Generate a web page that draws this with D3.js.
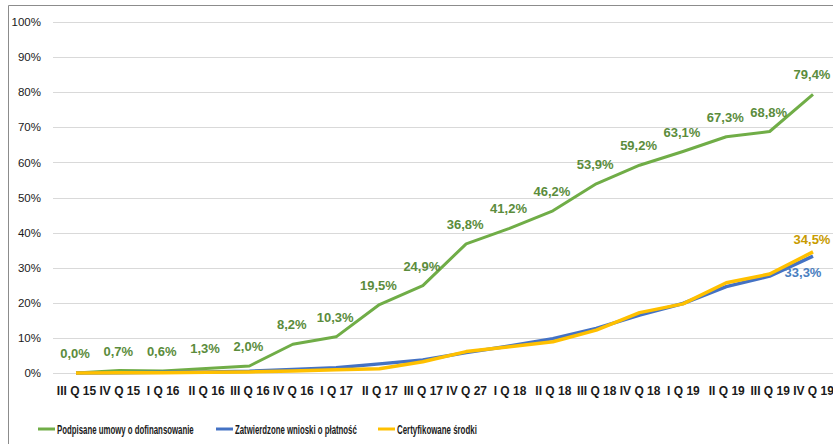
<!DOCTYPE html>
<html>
<head>
<meta charset="utf-8">
<script src="https://cdn.jsdelivr.net/npm/d3@7"></script>
<style>
  body { margin: 0; background: #fff; }
  text { font-family: "Liberation Sans", Arial, sans-serif; }
</style>
</head>
<body>
<svg id="chart" width="833" height="444"></svg>
<script>
// === Data ===
const quarters = ['III Q 15', 'IV Q 15', 'I Q 16', 'II Q 16', 'III Q 16', 'IV Q 16', 'I Q 17', 'II Q 17',
    'III Q 17', 'IV Q 27', 'I Q 18', 'II Q 18', 'III Q 18', 'IV Q 18', 'I Q 19', 'II Q 19', 'III Q 19', 'IV Q 19'];
const umowy = [0.0, 0.7, 0.6, 1.3, 2.0, 8.2, 10.3, 19.5, 24.9, 36.8, 41.2, 46.2, 53.9, 59.2, 63.1, 67.3, 68.8, 79.4];
const wnioski = [0, 0.1, 0.2, 0.3, 0.5, 1.0, 1.5, 2.6, 3.7, 5.8, 7.7, 9.8, 12.7, 16.5, 19.8, 24.6, 27.6, 33.3];
const certyfikowane = [0, 0.1, 0.1, 0.2, 0.3, 0.6, 0.9, 1.2, 3.2, 6.1, 7.5, 8.9, 12.2, 17.2, 19.7, 25.7, 28.2, 34.5];
const yTicks = [0, 10, 20, 30, 40, 50, 60, 70, 80, 90, 100];

const series = [
    { name: 'Podpisane umowy o dofinansowanie', values: umowy, color: '#70ad47', labelColor: '#5b8c3c', width: 3 },
    { name: 'Zatwierdzone wnioski o płatność', values: wnioski, color: '#4472c4', labelColor: '#4a7ebf', width: 3.5 },
    { name: 'Certyfikowane środki', values: certyfikowane, color: '#ffc000', labelColor: '#c89b00', width: 3.5 }
];

const svg = d3.select('#chart');
const fmt = v => v.toFixed(1).replace('.', ',') + '%';

// Outer frame
svg.append('path')
    .attr('d', 'M8.5,444 V5.5 H833')
    .attr('fill', 'none')
    .attr('stroke', '#8c8c8c')
    .attr('stroke-width', 1);

// === Scales ===
const x = d3.scalePoint().domain(quarters).range([76, 813]);
const y = d3.scaleLinear().domain([0, 100]).range([373, 22]);

// Gridlines
svg.append('g')
    .selectAll('line')
    .data(yTicks)
    .join('line')
    .attr('x1', 53).attr('x2', 833)
    .attr('y1', d => Math.round(y(d)) + 0.5)
    .attr('y2', d => Math.round(y(d)) + 0.5)
    .attr('stroke', '#d9d9d9');

// Y axis labels
const yAxis = svg.append('g')
    .attr('transform', 'translate(41,0)')
    .call(d3.axisLeft(y).tickValues(yTicks).tickFormat(d => d + '%').tickSize(0).tickPadding(0));
yAxis.select('.domain').remove();
yAxis.selectAll('text')
    .attr('font-size', 11.5)
    .attr('fill', '#1a1a1a')
    .style('font-family', '"Liberation Sans", Arial, sans-serif');

// X axis labels
const xAxis = svg.append('g')
    .attr('transform', 'translate(0,386)')
    .call(d3.axisBottom(x).tickSize(0).tickPadding(0));
xAxis.select('.domain').remove();
xAxis.selectAll('text')
    .attr('font-size', 12)
    .attr('font-weight', 'bold')
    .attr('fill', '#1a1a1a')
    .style('font-family', '"Liberation Sans", Arial, sans-serif');

// === Lines ===
const line = d3.line()
    .x((d, i) => x(quarters[i]))
    .y(d => y(d));

series.forEach(s => {
    svg.append('path')
        .datum(s.values)
        .attr('fill', 'none')
        .attr('stroke', s.color)
        .attr('stroke-width', s.width)
        .attr('stroke-linejoin', 'round')
        .attr('d', line);
});

// Data labels for the green series
svg.append('g')
    .selectAll('text')
    .data(umowy)
    .join('text')
    .attr('x', (d, i) => x(quarters[i]) - 1)
    .attr('y', d => y(d) - 15)
    .attr('text-anchor', 'middle')
    .attr('font-size', 13)
    .attr('font-weight', 'bold')
    .attr('fill', series[0].labelColor)
    .text(d => fmt(d));

// End labels for blue / yellow
const last = quarters.length - 1;
svg.append('text')
    .attr('x', x(quarters[last]) - 1)
    .attr('y', y(certyfikowane[last]) - 8)
    .attr('text-anchor', 'middle')
    .attr('font-size', 13)
    .attr('font-weight', 'bold')
    .attr('fill', series[2].labelColor)
    .text(fmt(certyfikowane[last]));
svg.append('text')
    .attr('x', x(quarters[last]) - 10)
    .attr('y', y(wnioski[last]) + 21)
    .attr('text-anchor', 'middle')
    .attr('font-size', 13)
    .attr('font-weight', 'bold')
    .attr('fill', series[1].labelColor)
    .text(fmt(wnioski[last]));

// === Legend ===
const legendX = [38, 216, 378];
const legendW = [137, 122, 80];
const legend = svg.append('g').selectAll('g')
    .data(series)
    .join('g')
    .attr('transform', (d, i) => `translate(${legendX[i]},429)`);
legend.append('line')
    .attr('x1', 0).attr('x2', 17)
    .attr('stroke', d => d.color)
    .attr('stroke-width', 3);
legend.append('text')
    .attr('font-size', 12.5)
    .attr('font-weight', 'bold')
    .attr('fill', '#1a1a1a')
    .text(d => d.name)
    .attr('transform', function (d, i) {
        const sx = legendW[i] / this.getComputedTextLength();
        return `translate(19,4.5) scale(${sx},1)`;
    });
</script>
</body>
</html>
